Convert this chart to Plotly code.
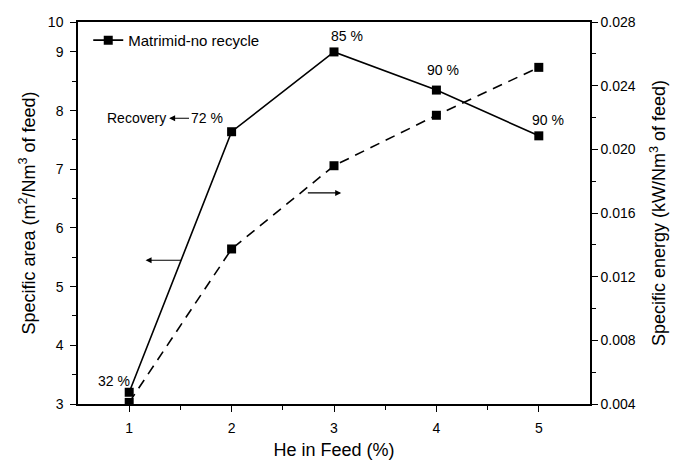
import plotly.graph_objects as go

he_feed = [1, 2, 3, 4, 5]
specific_area = [3.20, 7.64, 9.00, 8.35, 7.57]
specific_energy = [0.0041, 0.01374, 0.01897, 0.02214, 0.02515]
recovery_labels = ["32 %", "72 %", "85 %", "90 %", "90 %"]

left_tickvals = [3, 4, 5, 6, 7, 8, 9, 9.5]
left_ticktext = ["3", "4", "5", "6", "7", "8", "9", "10"]

FONT = "Liberation Sans, Arial, sans-serif"

fig = go.Figure()
fig.add_trace(go.Scatter(
    x=he_feed, y=specific_area, mode="lines+markers", name="Matrimid-no recycle",
    line=dict(color="black", width=1.6),
    marker=dict(symbol="square", size=9, color="black"),
    yaxis="y"))
fig.add_trace(go.Scatter(
    x=he_feed, y=specific_energy, mode="lines+markers", name="energy",
    line=dict(color="black", width=1.6, dash="10px,7px"),
    marker=dict(symbol="square", size=9, color="black"),
    yaxis="y2", showlegend=False))

ann = []
label_pos = [(0.85, 3.40), None, (3.13, 9.27), (4.06, 8.69), (5.09, 7.84)]
for pos, t in zip(label_pos, recovery_labels):
    if pos is None:
        continue
    ann.append(dict(x=pos[0], y=pos[1], xref="x", yref="y", text=t, showarrow=False,
                    font=dict(size=14, color="black", family=FONT)))
ann.append(dict(x=1.07, y=7.87, xref="x", yref="y", text="Recovery", showarrow=False,
                font=dict(size=14, color="black", family=FONT)))
ann.append(dict(x=1.39, y=7.87, ax=1.755, ay=7.87, xref="x", yref="y", axref="x", ayref="y",
                text=recovery_labels[1], showarrow=True, arrowhead=2, arrowsize=1,
                arrowwidth=1.2, arrowcolor="black", standoff=0,
                font=dict(size=14, color="black", family=FONT)))
ann.append(dict(x=1.16, y=5.45, ax=1.52, ay=5.45, xref="x", yref="y", axref="x", ayref="y",
                text="", showarrow=True, arrowhead=2, arrowsize=1, arrowwidth=1.2, arrowcolor="black"))
ann.append(dict(x=3.07, y=0.01726, ax=2.73, ay=0.01726, xref="x", yref="y2", axref="x", ayref="y2",
                text="", showarrow=True, arrowhead=2, arrowsize=1, arrowwidth=1.2, arrowcolor="black"))

fig.update_layout(
    width=675, height=460,
    margin=dict(l=78, r=85, t=22, b=56, autoexpand=False),
    paper_bgcolor="white", plot_bgcolor="white",
    font=dict(family=FONT, size=14, color="black"),
    showlegend=True,
    legend=dict(x=0.02, y=0.995, xanchor="left", yanchor="top", bgcolor="rgba(0,0,0,0)",
                font=dict(size=15), itemwidth=30),
    xaxis=dict(range=[0.5, 5.5], tickvals=[1, 2, 3, 4, 5], ticks="outside", ticklen=6,
               tickcolor="black", showline=True, linecolor="black", linewidth=1.5,
               mirror=True, showgrid=False, zeroline=False, ticklabelstandoff=4,
               minor=dict(tickvals=[1.5, 2.5, 3.5, 4.5], ticks="outside", ticklen=4, tickcolor="black"),
               title=dict(text="He in Feed (%)", font=dict(size=18), standoff=15),
               tickfont=dict(size=14)),
    yaxis=dict(range=[3, 9.51], tickvals=left_tickvals, ticktext=left_ticktext,
               ticks="outside", ticklen=6, tickcolor="black", showline=True,
               linecolor="black", linewidth=1.5, showgrid=False, zeroline=False,
               ticklabelstandoff=4,
               minor=dict(tickvals=[3.5, 4.5, 5.5, 6.5, 7.5, 8.5], ticks="outside", ticklen=4, tickcolor="black"),
               title=dict(text="Specific area (m<sup>2</sup>/Nm<sup>3</sup> of feed)", font=dict(size=18), standoff=8),
               tickfont=dict(size=14)),
    yaxis2=dict(range=[0.004, 0.028], overlaying="y", side="right", dtick=0.004, tick0=0.004,
                tickformat=".3f", ticks="outside", ticklen=6, tickcolor="black",
                showline=True, linecolor="black", linewidth=1.5, showgrid=False, zeroline=False,
                minor=dict(dtick=0.002, tick0=0.004, ticks="outside", ticklen=4, tickcolor="black"),
                title=dict(text="Specific energy (kW/Nm<sup>3</sup> of feed)", font=dict(size=18), standoff=18),
                tickfont=dict(size=14)),
    annotations=ann,
)

fig.write_html("out.html", config={"displayModeBar": False},
               post_script="document.body.style.margin='0';")
